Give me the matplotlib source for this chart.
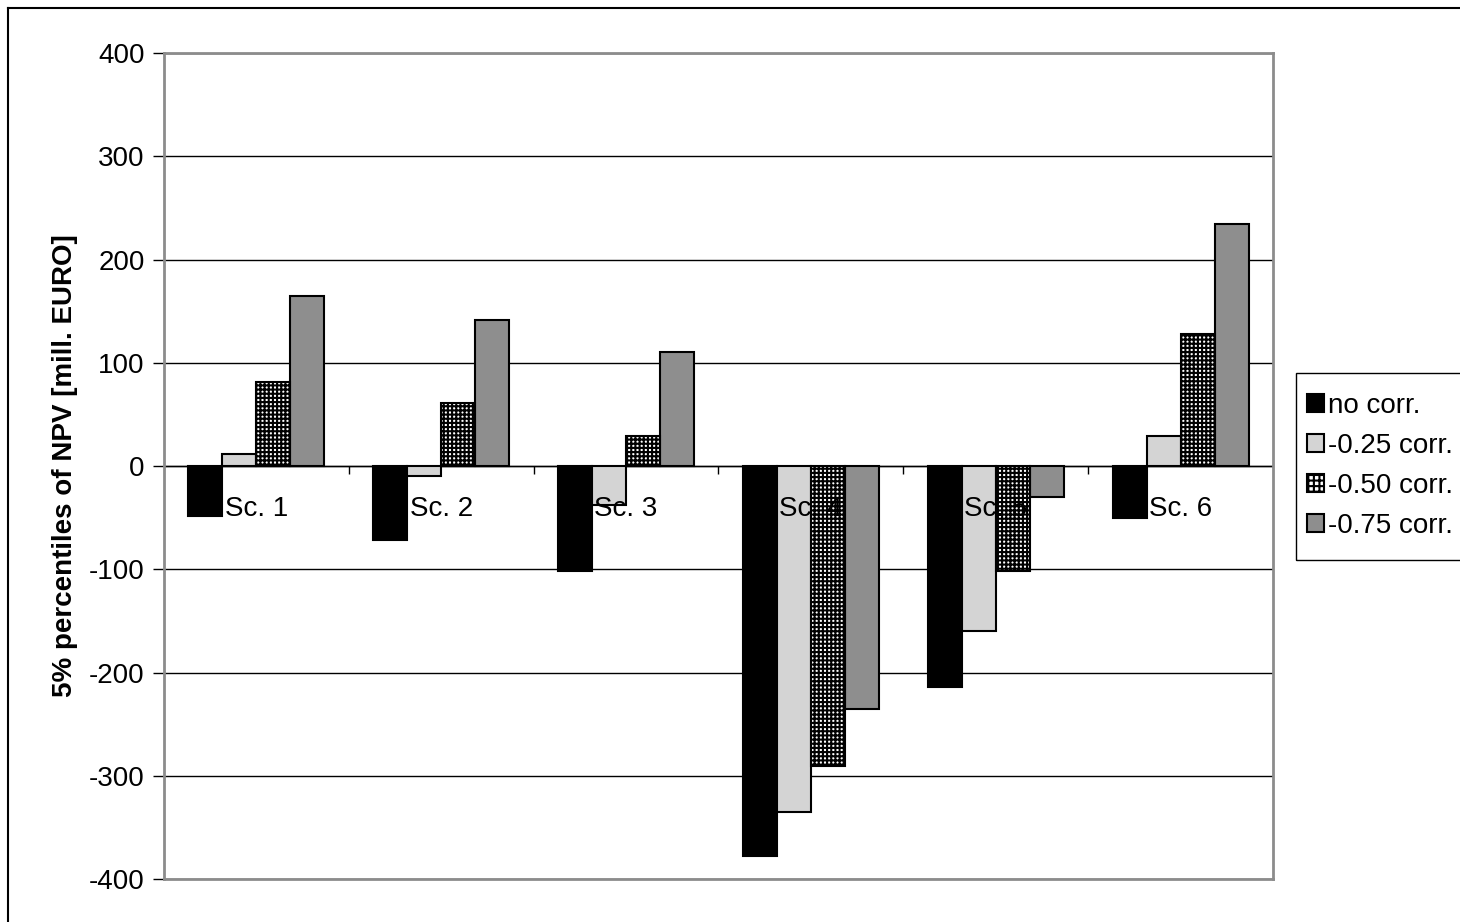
import numpy as np
import matplotlib.pyplot as plt
from matplotlib.lines import Line2D
from matplotlib.patches import Patch, Rectangle

plt.rcParams['font.family'] = ['Liberation Sans', 'DejaVu Sans']
plt.rcParams['hatch.linewidth'] = 1.5

# data
scenarios = ["Sc. 1", "Sc. 2", "Sc. 3", "Sc. 4", "Sc. 5", "Sc. 6"]
series_names = ["no corr.", "-0.25 corr.", "-0.50 corr.", "-0.75 corr."]
no_corr = [-48, -72, -102, -378, -214, -50]
corr_025 = [12, -10, -38, -335, -160, 29]
corr_050 = [81, 61, 29, -291, -102, 128]
corr_075 = [165, 141, 110, -235, -30, 234]
yticks = [-400, -300, -200, -100, 0, 100, 200, 300, 400]

FS = 20
GRID = "#000000"
FRAME = "#8c8c8c"
LIGHT = "#d4d4d4"
MID = "#8e8e8e"
W, H = 1460, 922

fig = plt.figure(figsize=(14.6, 9.22), dpi=100)
ax = fig.add_axes([164 / W, 1 - 879 / H, (1273 - 164) / W, (879 - 53) / H])

x = np.arange(len(scenarios))
w = 0.184
offsets = (np.arange(4) - 1.5) * w

# no corr: solid black
ax.bar(x + offsets[0], no_corr, w, color="black", edgecolor="black", linewidth=1.5, zorder=3)
# -0.25: light grey
ax.bar(x + offsets[1], corr_025, w, color=LIGHT, edgecolor="black", linewidth=1.5, zorder=3)
# -0.50: dense black grid leaving white dots
ax.bar(x + offsets[2], corr_050, w, color="white", edgecolor="black", hatch="++++", linewidth=0, zorder=3)
ax.bar(x + offsets[2], corr_050, w, color="none", edgecolor="black", linewidth=1.5, zorder=3.1)
# -0.75: mid grey
ax.bar(x + offsets[3], corr_075, w, color=MID, edgecolor="black", linewidth=1.5, zorder=3)

ax.set_xlim(-0.5, len(scenarios) - 0.5)
ax.set_ylim(-400, 400)
ax.set_yticks(yticks)
ax.set_yticklabels([str(v) for v in yticks], fontsize=FS)
ax.tick_params(axis="y", length=8, width=1, direction="out", pad=6)
ax.set_xticks([])
ax.yaxis.grid(True, color=GRID, linewidth=1, zorder=0)
ax.set_axisbelow(True)
for s in ax.spines.values():
    s.set_color(FRAME)
    s.set_linewidth(2)

# zero axis with tick marks between categories
ax.axhline(0, color="black", linewidth=1, zorder=2)
bounds = np.arange(len(scenarios) + 1) - 0.5
ax.vlines(bounds[1:-1], -8, 0, color="black", linewidth=1, zorder=2)

# category labels sit just below the zero line, drawn over the bars
for i, name in enumerate(scenarios):
    ax.annotate(name, xy=(x[i], 0), xytext=(0, -43), textcoords="offset pixels",
                ha="center", va="center", fontsize=FS, zorder=4)

ax.set_ylabel("5% percentiles of NPV [mill. EURO]", fontsize=FS, fontweight="bold", labelpad=8)

# legend: entries without frame, box drawn separately (it runs off the right edge)
handles = [
    Patch(facecolor="black", edgecolor="black", linewidth=1.5),
    Patch(facecolor=LIGHT, edgecolor="black", linewidth=1.5),
    Patch(facecolor="white", edgecolor="black", hatch="+++", linewidth=1.5),
    Patch(facecolor=MID, edgecolor="black", linewidth=1.5),
]
fig.legend(handles, series_names, loc="upper left", bbox_to_anchor=(1307 / W, 1 - 393 / H),
           fontsize=FS, frameon=False, handlelength=0.6, handleheight=0.6,
           handletextpad=0.15, labelspacing=0.5, borderpad=0, borderaxespad=0)
fig.add_artist(Rectangle((1296 / W, 1 - 560 / H), 0.2, (560 - 373) / H, transform=fig.transFigure,
                         facecolor="none", edgecolor="black", linewidth=1))

# outer chart border (left and top visible)
fig.add_artist(Line2D([8 / W, 8 / W], [0, 1 - 8 / H], color="black", linewidth=1.5))
fig.add_artist(Line2D([8 / W, 1], [1 - 8 / H, 1 - 8 / H], color="black", linewidth=1.5))

fig.savefig("out.png", dpi=100)
